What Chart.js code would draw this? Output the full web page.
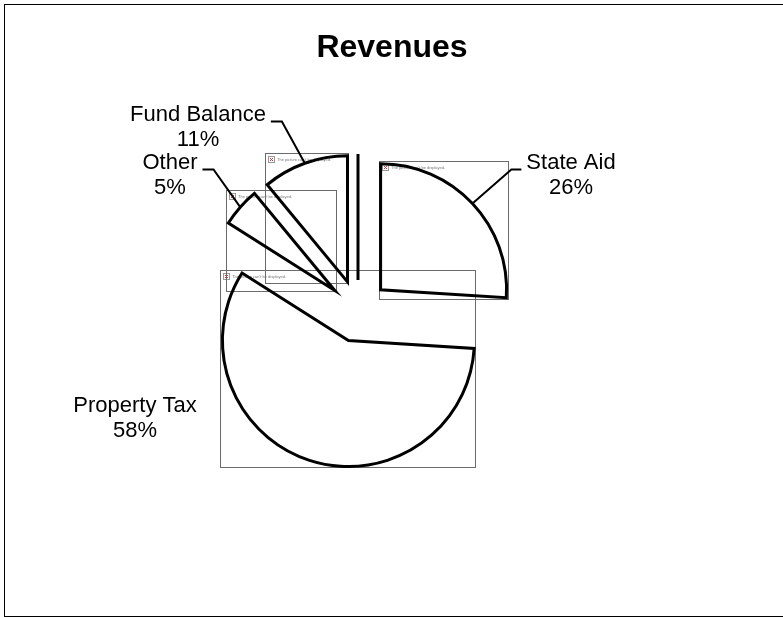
<!DOCTYPE html>
<html>
<head>
<meta charset="utf-8">
<script src="https://cdn.jsdelivr.net/npm/chart.js@4.4.1/dist/chart.umd.min.js"></script>
<style>
  html, body { margin: 0; padding: 0; background: #fff; }
  #wrap { position: relative; width: 783px; height: 618px; }
</style>
</head>
<body>
<div id="wrap"><canvas id="revenueChart" width="783" height="618"></canvas></div>
<script>
// Data (the last slice is an unnamed 0% entry that shows up only as a line)
const categories = ['State Aid', 'Property Tax', 'Other', 'Fund Balance', ''];
const shares = [26, 58, 5, 11, 0];

// Every slice is pulled out of the pie by the same amount (px)
const EXPLODE = 31;
// Label block centres and whether a leader line is drawn
const labelSpots = [[571, 175], [135, 418], [170, 175], [198, 127], null];
const showLeader = [true, false, true, true, false];

const FONT = "'Liberation Sans', Arial, sans-serif";

// Pull slices out along their mid angle
const explodePlugin = {
    id: 'explode',
    afterDatasetsUpdate(chart) {
        chart.getDatasetMeta(0).data.forEach(arc => {
            const mid = (arc.startAngle + arc.endAngle) / 2;
            arc.x += Math.cos(mid) * EXPLODE;
            arc.y += Math.sin(mid) * EXPLODE;
        });
    }
};

// Page frame and title
const framePlugin = {
    id: 'frame',
    beforeDraw(chart) {
        const ctx = chart.ctx;
        ctx.save();
        ctx.fillStyle = '#fff';
        ctx.fillRect(0, 0, chart.width, chart.height);
        ctx.strokeStyle = '#000';
        ctx.lineWidth = 1;
        ctx.strokeRect(4.5, 4.5, chart.width + 10, chart.height - 6);
        ctx.fillStyle = '#000';
        ctx.font = 'bold 32px ' + FONT;
        ctx.textAlign = 'center';
        ctx.textBaseline = 'middle';
        ctx.fillText('Revenues', 392, 48);
        ctx.restore();
    }
};

// The "picture can't be displayed" boxes behind every slice
const pictureBoxPlugin = {
    id: 'pictureBoxes',
    beforeDatasetsDraw(chart) {
        const ctx = chart.ctx;
        ctx.save();
        chart.getDatasetMeta(0).data.forEach(arc => {
            if (arc.circumference === 0) return;
            const r = arc.outerRadius;
            const pts = [[arc.x, arc.y]];
            const angs = [arc.startAngle, arc.endAngle];
            for (let k = -4; k <= 8; k++) {
                const a = k * Math.PI / 2;
                if (a > arc.startAngle && a < arc.endAngle) angs.push(a);
            }
            angs.forEach(a => pts.push([arc.x + Math.cos(a) * r, arc.y + Math.sin(a) * r]));
            const xs = pts.map(p => p[0]), ys = pts.map(p => p[1]);
            const x0 = Math.round(Math.min(...xs)) - 2, x1 = Math.round(Math.max(...xs)) + 1;
            const y0 = Math.round(Math.min(...ys)) - 3, y1 = Math.round(Math.max(...ys)) + 1;
            ctx.strokeStyle = '#6b6b6b';
            ctx.lineWidth = 1;
            ctx.strokeRect(x0 + 0.5, y0 + 0.5, x1 - x0, y1 - y0);
            // tiny broken-image icon
            ctx.strokeStyle = '#999';
            ctx.strokeRect(x0 + 3.5, y0 + 3.5, 6, 6);
            ctx.strokeStyle = '#d33';
            ctx.beginPath();
            ctx.moveTo(x0 + 5, y0 + 5); ctx.lineTo(x0 + 8, y0 + 8);
            ctx.moveTo(x0 + 8, y0 + 5); ctx.lineTo(x0 + 5, y0 + 8);
            ctx.stroke();
            ctx.fillStyle = '#777';
            ctx.font = '4px ' + FONT;
            ctx.textBaseline = 'middle';
            ctx.fillText("The picture can't be displayed.", x0 + 12, y0 + 7);
        });
        ctx.restore();
    }
};

// Zero-size slices still leave their edge line
const zeroSlicePlugin = {
    id: 'zeroSlices',
    afterDatasetsDraw(chart) {
        const ctx = chart.ctx;
        ctx.save();
        ctx.strokeStyle = '#000';
        ctx.lineWidth = 3;
        chart.getDatasetMeta(0).data.forEach(arc => {
            if (arc.circumference !== 0) return;
            ctx.beginPath();
            ctx.moveTo(arc.x, arc.y);
            ctx.lineTo(arc.x + Math.cos(arc.startAngle) * arc.outerRadius,
                       arc.y + Math.sin(arc.startAngle) * arc.outerRadius);
            ctx.stroke();
        });
        ctx.restore();
    }
};

// Category labels with leader lines
const labelPlugin = {
    id: 'sliceLabels',
    afterDraw(chart) {
        const ctx = chart.ctx;
        const arcs = chart.getDatasetMeta(0).data;
        ctx.save();
        ctx.font = '22px ' + FONT;
        ctx.fillStyle = '#000';
        ctx.textAlign = 'center';
        ctx.textBaseline = 'middle';
        arcs.forEach((arc, i) => {
            if (!labelSpots[i]) return;
            const [lx, ly] = labelSpots[i];
            const line1 = ly - 12.5, line2 = ly + 12.5;
            ctx.fillText(categories[i], lx, line1);
            ctx.fillText(shares[i] + '%', lx, line2);
            if (!showLeader[i]) return;
            const mid = (arc.startAngle + arc.endAngle) / 2;
            const px = arc.x + Math.cos(mid) * arc.outerRadius;
            const py = arc.y + Math.sin(mid) * arc.outerRadius;
            const w = ctx.measureText(categories[i]).width;
            const hy = line1 + 7;
            let hx0, hx1;
            if (lx < px) { hx0 = lx + w / 2 + 5; hx1 = hx0 + 11; }
            else { hx0 = lx - w / 2 - 5; hx1 = hx0 - 10; }
            ctx.strokeStyle = '#000';
            ctx.lineWidth = 2;
            ctx.beginPath();
            ctx.moveTo(hx0, hy);
            ctx.lineTo(hx1, hy);
            ctx.lineTo(px, py);
            ctx.stroke();
        });
        ctx.restore();
    }
};

new Chart(document.getElementById('revenueChart'), {
    type: 'pie',
    data: {
        labels: categories,
        datasets: [{
            data: shares,
            backgroundColor: 'rgba(255,255,255,0)',
            borderColor: '#000',
            borderWidth: 3,
            borderJoinStyle: 'miter'
        }]
    },
    options: {
        responsive: false,
        animation: false,
        radius: 126,
        layout: { padding: { left: 10, right: 77, top: 20, bottom: 16 } },
        events: [],
        plugins: {
            legend: { display: false },
            tooltip: { enabled: false },
            title: { display: false }
        }
    },
    plugins: [explodePlugin, framePlugin, pictureBoxPlugin, zeroSlicePlugin, labelPlugin]
});
</script>
</body>
</html>
